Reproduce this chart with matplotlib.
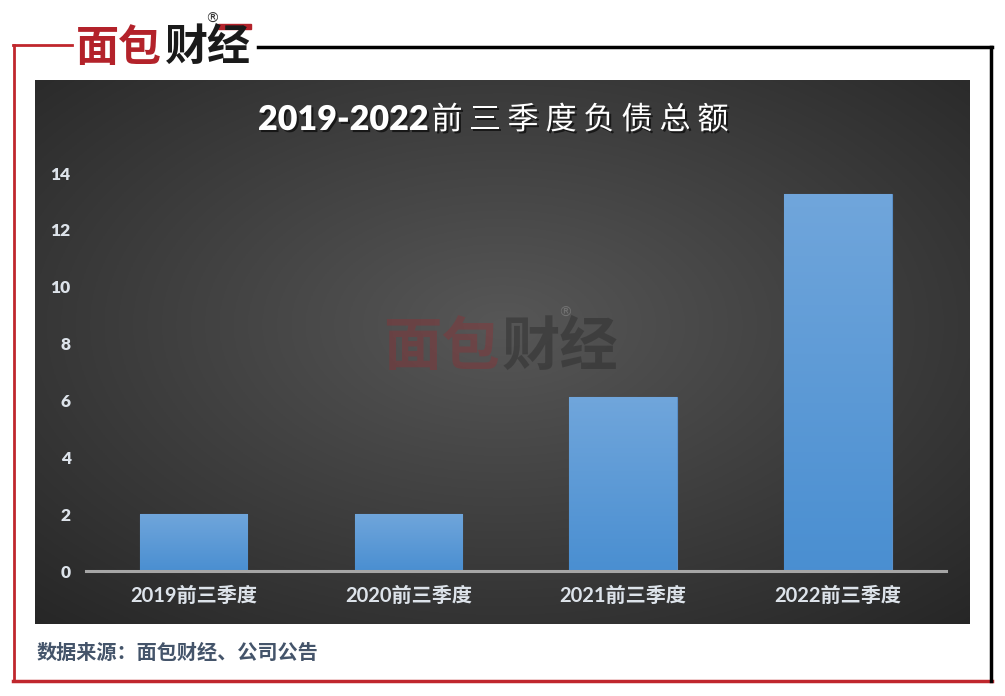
import numpy as np
import matplotlib.pyplot as plt
from matplotlib.lines import Line2D
from matplotlib.patches import Rectangle
import matplotlib.patheffects as pe

# data
categories = ['2019前三季度', '2020前三季度', '2021前三季度', '2022前三季度']
values = [2.02, 2.02, 6.12, 13.25]
yticks = [0, 2, 4, 6, 8, 10, 12, 14]
title_num = '2019-2022'
title_cn = '前三季度负债总额'
source = '数据来源：面包财经、公司公告'

W, H = 1005, 696
fonts = ['Lato', 'Noto Sans CJK SC']
cjk = ['Noto Sans CJK SC', 'DejaVu Sans']


def fx(x):
    return x / W


def fy(y):
    return 1 - y / H


fig = plt.figure(figsize=(W / 100, H / 100), dpi=100)
fig.patch.set_facecolor('white')

# dark panel with radial gradient
bg = fig.add_axes([fx(35), fy(624), fx(969 - 35), (624 - 80) / H])
gx, gy = np.meshgrid(np.linspace(-1, 1, 400), np.linspace(-1, 1, 300))
r = np.sqrt(gx ** 2 + (gy + 0.1) ** 2) / np.sqrt(2)
shade = 0.34 - 0.18 * r
bg.imshow(np.dstack([shade, shade, shade]), aspect='auto', extent=[0, 1, 0, 1])
bg.set_axis_off()

# frame lines
red = '#c0272d'
fig.add_artist(Line2D([fx(14), fx(14)], [fy(45), fy(681)], color=red, lw=2))
fig.add_artist(Line2D([fx(13), fx(72)], [fy(45), fy(45)], color=red, lw=2))
fig.add_artist(Line2D([fx(13), fx(992)], [fy(681), fy(681)], color=red, lw=2.5))
fig.add_artist(Line2D([fx(258), fx(992)], [fy(47), fy(47)], color='black', lw=2.5))
fig.add_artist(Line2D([fx(991), fx(991)], [fy(47), fy(681)], color='black', lw=2.5))

# header logo
fig.text(fx(76), fy(48), '面包', color='#b3222a', fontsize=31, weight='heavy',
         family=cjk, va='center', ha='left')
fig.text(fx(165), fy(48), '财经', color='#1a1a1a', fontsize=31, weight='heavy',
         family=cjk, va='center', ha='left')
fig.text(fx(212), fy(19), '®', color='#333333', fontsize=10, family=['DejaVu Sans'],
         va='center', ha='center')
fig.add_artist(Rectangle((fx(218), fy(29)), fx(33), 5 / H, color='#b3222a',
                         transform=fig.transFigure))

ax = fig.add_axes([fx(86), fy(571), fx(945.5 - 86), (571 - 173) / H])
ax.set_facecolor('none')
x = np.arange(len(categories))
bars = ax.bar(x, values, width=0.5, color='#5b9bd5', edgecolor='#5a8fc8', linewidth=0.8, zorder=3)

# vertical gradient inside each bar
grad = np.linspace(0, 1, 256).reshape(-1, 1)
top_c = np.array([0.44, 0.65, 0.86])
bot_c = np.array([0.29, 0.56, 0.82])
gimg = top_c * (1 - grad[..., None]) + bot_c * grad[..., None]
for b in bars:
    b.set_path_effects([pe.withSimplePatchShadow(offset=(0.8, -0.8), shadow_rgbFace='black',
                                                 alpha=0.35)])
    x0, w, h = b.get_x(), b.get_width(), b.get_height()
    im = ax.imshow(gimg, extent=[x0, x0 + w, 0, h], aspect='auto', zorder=4, origin='upper')
    im.set_clip_path(b)

ax.set_xlim(-0.5, 3.5)
ax.set_ylim(0, 14)
ax.set_yticks(yticks)
ax.set_xticks(x)
ax.set_xticklabels(categories)
for s in ['top', 'right', 'left']:
    ax.spines[s].set_visible(False)
ax.spines['bottom'].set_color('#a6a6a6')
ax.spines['bottom'].set_linewidth(2.2)
ax.spines['bottom'].set_zorder(5)
ax.tick_params(axis='both', length=0, colors='#dde3ea')
ax.tick_params(axis='y', pad=11)
ax.tick_params(axis='x', pad=11)
for t in ax.get_yticklabels():
    t.set_fontfamily(fonts)
    t.set_fontweight('heavy')
    t.set_fontsize(12.5)
for t in ax.get_xticklabels():
    t.set_fontfamily(fonts)
    t.set_fontweight('bold')
    t.set_fontsize(14.5)

# watermark
fig.text(fx(383), fy(348), '面包', color='#9a2a30', alpha=0.35, fontsize=42, weight='heavy',
         family=cjk, va='center', ha='left')
fig.text(fx(502), fy(348), '财经', color='#2a2a2a', alpha=0.45, fontsize=42, weight='heavy',
         family=cjk, va='center', ha='left')
fig.text(fx(565), fy(313), '®', color='#888888', alpha=0.6, fontsize=10,
         family=['DejaVu Sans'], va='center', ha='center')

# title
shadow = [pe.withSimplePatchShadow(offset=(1.5, -1.5), shadow_rgbFace='black', alpha=0.6)]
fig.text(fx(258), fy(120), title_num, color='white', fontsize=24.5, weight='heavy',
         family=fonts, va='center', ha='left', path_effects=shadow)
for i, ch in enumerate(title_cn):
    fig.text(fx(447 + 38 * i), fy(120), ch, color='white', fontsize=22.5, family=cjk,
             va='center', ha='center', path_effects=shadow)

# source
fig.text(fx(37), fy(652), source, color='#44546a', fontsize=14.5, weight='bold',
         family=cjk, va='center', ha='left')

fig.savefig('out.png', dpi=100)
